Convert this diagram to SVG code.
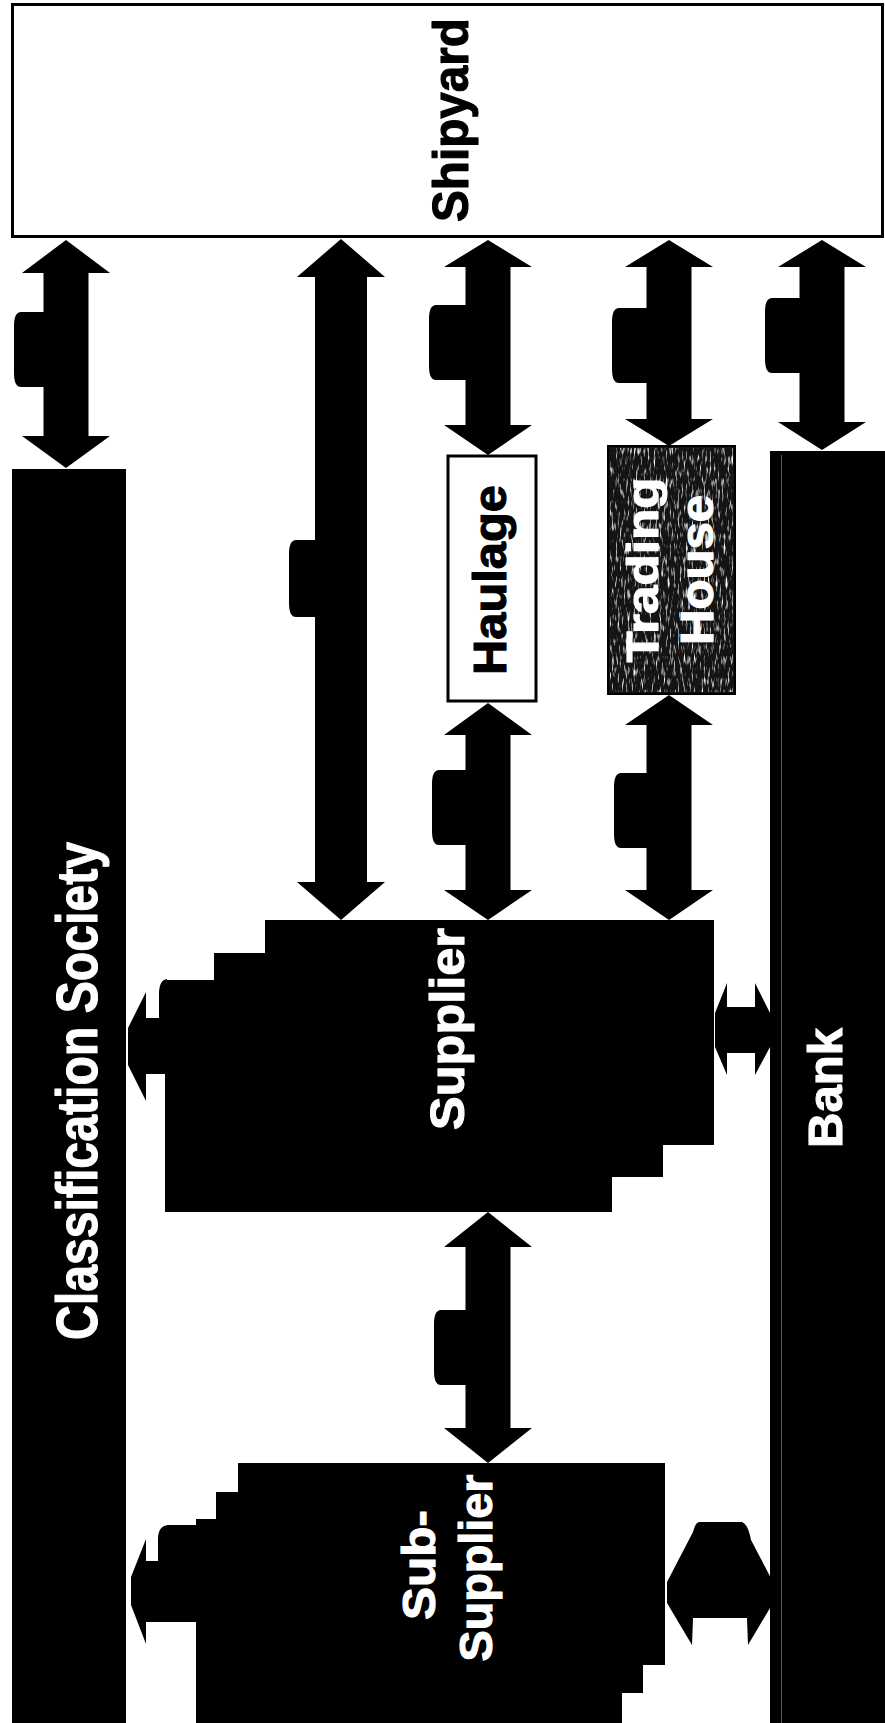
<svg xmlns="http://www.w3.org/2000/svg" width="885" height="1723" viewBox="0 0 885 1723">
<style>
.blk{fill:#000}
.box{fill:#fff;stroke:#000;stroke-width:3}
.lbl{font-family:"Liberation Sans",Arial,Helvetica,sans-serif;font-weight:bold;text-anchor:middle;stroke-width:1.1;stroke-linejoin:round}
.wt{fill:#fff;stroke:#fff}
.bt{fill:#000;stroke:#000}
</style>
<defs>
<filter id="speckle" x="0" y="0" width="100%" height="100%" filterUnits="objectBoundingBox">
<feTurbulence type="fractalNoise" baseFrequency="0.5 0.09" numOctaves="2" seed="7" result="n"/>
<feColorMatrix in="n" type="matrix" values="0 0 0 0 1  0 0 0 0 1  0 0 0 0 1  3.4 0 0 0 -1.8"/>
</filter>
</defs>
<rect width="885" height="1723" fill="#fff"/>

<g id="shipyard">
<rect class="box" x="12.5" y="4.5" width="870" height="232"/>
<text class="lbl bt" font-size="50" textLength="204" lengthAdjust="spacingAndGlyphs" transform="translate(468,120) rotate(-90)">Shipyard</text>
</g>

<g id="classification-society">
<rect class="blk" x="12" y="469" width="114" height="1254"/>
<text class="lbl wt" font-size="58" textLength="498" lengthAdjust="spacingAndGlyphs" transform="translate(97,1091) rotate(-90)">Classification Society</text>
</g>

<g id="haulage">
<rect class="box" x="448" y="456" width="88" height="245"/>
<text class="lbl bt" font-size="47" textLength="190" lengthAdjust="spacingAndGlyphs" transform="translate(506,580) rotate(-90)">Haulage</text>
</g>

<g id="trading-house">
<rect x="608" y="446" width="127" height="248" fill="#141414" stroke="#000" stroke-width="2"/>
<rect x="610" y="448" width="123" height="244" fill="#fff" filter="url(#speckle)"/>
<text class="lbl wt" font-size="45" textLength="185" lengthAdjust="spacingAndGlyphs" transform="translate(658,570) rotate(-90)">Trading</text>
<text class="lbl wt" font-size="46" textLength="150" lengthAdjust="spacingAndGlyphs" transform="translate(713,570) rotate(-90)">House</text>
</g>

<g id="bank">
<rect class="blk" x="770" y="451" width="115" height="1272"/>
<rect x="781" y="455" width="1" height="1268" fill="#5a5a5a"/>
<text class="lbl wt" font-size="48" textLength="120" lengthAdjust="spacingAndGlyphs" transform="translate(842,1088) rotate(-90)">Bank</text>
</g>

<g id="supplier">
<rect class="blk" x="265" y="920" width="449" height="225"/>
<rect class="blk" x="214" y="953" width="449" height="224"/>
<rect class="blk" x="165" y="980" width="447" height="232"/>
<text class="lbl wt" font-size="48" textLength="202" lengthAdjust="spacingAndGlyphs" transform="translate(464,1029) rotate(-90)">Supplier</text>
</g>

<g id="sub-supplier">
<rect class="blk" x="238" y="1463" width="427" height="202"/>
<rect class="blk" x="216" y="1492" width="427" height="201"/>
<rect class="blk" x="196" y="1519" width="426" height="204"/>
<text class="lbl wt" font-size="46" textLength="110" lengthAdjust="spacingAndGlyphs" transform="translate(435,1565) rotate(-90)">Sub-</text>
<text class="lbl wt" font-size="46" textLength="187" lengthAdjust="spacingAndGlyphs" transform="translate(492,1568) rotate(-90)">Supplier</text>
</g>

<g id="connectors" class="blk">
<!-- Shipyard - Classification Society -->
<path d="M66,240 L110,273 L88.5,273 L88.5,436 L110,436 L66,468 L22,436 L43.5,436 L43.5,273 L22,273 Z"/>
<path d="M44,312 H21 Q14,312 14,326 V373 Q14,387 21,387 H44 Z"/>
<!-- Shipyard - Supplier (long) -->
<path d="M341,239 L385,277 L367,277 L367,882 L385,882 L341,920 L297,882 L315,882 L315,277 L297,277 Z"/>
<path d="M316,540 H296 Q289,540 289,554 V603 Q289,617 296,617 H316 Z"/>
<!-- Shipyard - Haulage -->
<path d="M488,240 L532,267 L510.5,267 L510.5,425 L532,425 L488,455 L444,425 L465.5,425 L465.5,267 L444,267 Z"/>
<path d="M466,305 H436 Q429,305 429,319 V366 Q429,380 436,380 H466 Z"/>
<!-- Shipyard - Trading House -->
<path d="M669,240 L713,267 L691.5,267 L691.5,419 L713,419 L669,446 L625,419 L646.5,419 L646.5,267 L625,267 Z"/>
<path d="M647,308 H619 Q612,308 612,322 V369 Q612,383 619,383 H647 Z"/>
<!-- Shipyard - Bank -->
<path d="M822,240 L866,267 L844.5,267 L844.5,422 L866,422 L822,450 L778,422 L799.5,422 L799.5,267 L778,267 Z"/>
<path d="M800,298 H772 Q765,298 765,312 V359 Q765,373 772,373 H800 Z"/>
<!-- Haulage - Supplier -->
<path d="M488,703 L532,735 L510.5,735 L510.5,890 L532,890 L488,920 L444,890 L465.5,890 L465.5,735 L444,735 Z"/>
<path d="M466,770 H439 Q432,770 432,784 V831 Q432,845 439,845 H466 Z"/>
<!-- Trading House - Supplier -->
<path d="M669,695 L713,725 L691.5,725 L691.5,890 L713,890 L669,920 L625,890 L646.5,890 L646.5,725 L625,725 Z"/>
<path d="M647,773 H621 Q614,773 614,787 V834 Q614,848 621,848 H647 Z"/>
<!-- Supplier - Sub-Supplier -->
<path d="M488,1212 L532,1247 L510.5,1247 L510.5,1428 L532,1428 L488,1463 L444,1428 L465.5,1428 L465.5,1247 L444,1247 Z"/>
<path d="M466,1310 H441 Q434,1310 434,1324 V1371 Q434,1385 441,1385 H466 Z"/>
<!-- Supplier - Classification Society -->
<path d="M167,979 Q159,980 159,994 L159,1018 L146,1018 L146,992 L128,1028 L128,1065 L146,1101 L146,1074 L167,1074 Z"/>
<!-- Supplier - Bank -->
<path d="M715,1013 L727,983 L727,1007 L755,1007 L755,983 L770,1013 L770,1047 L755,1075 L755,1053 L727,1053 L727,1075 L715,1047 Z"/>
<!-- Sub-Supplier - Classification Society -->
<path d="M197,1525 L168,1525 Q158,1526 158,1539 L158,1561 L146,1561 L146,1539 L131,1577 L131,1605 L146,1644 L146,1622 L197,1622 Z"/>
<!-- Sub-Supplier - Bank -->
<path d="M699,1522 L742,1522 Q748,1524 751,1540 L773,1582 L773,1603 L748,1645 L747,1618 L693,1618 L692,1645 L667,1603 L667,1582 L693,1532 Q695,1523 699,1522 Z"/>
</g>
</svg>
